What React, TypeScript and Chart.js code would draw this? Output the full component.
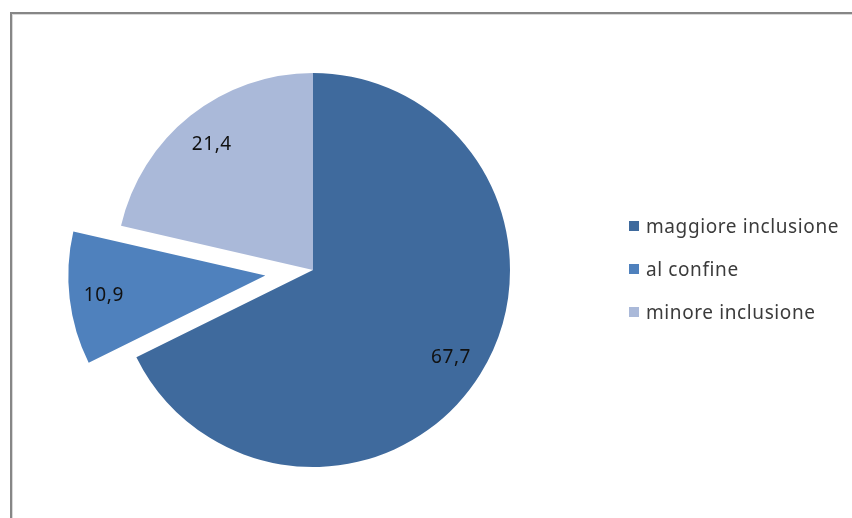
import React, { useEffect, useRef } from "react";
import { Chart, ArcElement, registerables } from "chart.js";

Chart.register(...registerables);

const categories = ["maggiore inclusione", "al confine", "minore inclusione"];
const values = [67.7, 10.9, 21.4];
const valueLabels = ["67,7", "10,9", "21,4"];
const colors = ["#3F6A9D", "#4F81BD", "#AAB9D9"];
// radial pull-out of each slice, in px
const explode = [0, 48, 0];

const FONT = "19px 'Noto Sans'";

const framePlugin = {
  id: "frame",
  beforeDraw(chart: any) {
    const ctx = chart.ctx;
    ctx.save();
    ctx.fillStyle = "#ffffff";
    ctx.fillRect(0, 0, chart.width, chart.height);
    ctx.fillStyle = "#868686";
    ctx.fillRect(10, 12, chart.width - 10, 2);
    ctx.fillRect(10, 12, 2, chart.height - 12);
    ctx.fillStyle = "#d9d9d9";
    ctx.fillRect(12, 14, chart.width - 12, 1);
    ctx.fillRect(12, 14, 1, chart.height - 14);
    ctx.restore();
  },
};

const explodePlugin = {
  id: "explodeSlices",
  beforeDatasetsDraw(chart: any) {
    const meta = chart.getDatasetMeta(0);
    meta.data.forEach((arc: any, i: number) => {
      const d = explode[i] || 0;
      if (!d || arc.__exploded) return;
      arc.__exploded = true;
      arc.draw = function (ctx: CanvasRenderingContext2D) {
        const mid = (this.startAngle + this.endAngle) / 2;
        ctx.save();
        ctx.translate(Math.cos(mid) * d, Math.sin(mid) * d);
        ArcElement.prototype.draw.call(this, ctx);
        ctx.restore();
      };
    });
  },
};

const labelsPlugin = {
  id: "sliceLabels",
  afterDatasetsDraw(chart: any) {
    const ctx = chart.ctx;
    const meta = chart.getDatasetMeta(0);
    ctx.save();
    ctx.font = FONT;
    (ctx as any).letterSpacing = "0.6px";
    ctx.fillStyle = "#111111";
    ctx.textAlign = "center";
    ctx.textBaseline = "alphabetic";
    meta.data.forEach((arc: any, i: number) => {
      const p = arc.getProps(["x", "y", "startAngle", "endAngle", "outerRadius"], true);
      const mid = (p.startAngle + p.endAngle) / 2;
      const off = explode[i] || 0;
      const cx = p.x + Math.cos(mid) * off;
      const cy = p.y + Math.sin(mid) * off;
      const lx = cx + Math.cos(mid) * p.outerRadius * 0.825;
      const ly = cy + Math.sin(mid) * p.outerRadius * 0.825;
      ctx.fillText(valueLabels[i], lx, ly + 7);
    });
    ctx.restore();
  },
};

const legendPlugin = {
  id: "customLegend",
  afterDraw(chart: any) {
    const ctx = chart.ctx;
    ctx.save();
    ctx.font = FONT;
    (ctx as any).letterSpacing = "0.6px";
    ctx.textAlign = "left";
    ctx.textBaseline = "alphabetic";
    categories.forEach((label, i) => {
      const cy = 226 + i * 43;
      ctx.fillStyle = colors[i];
      ctx.fillRect(629, cy - 5, 10, 10);
      ctx.fillStyle = "#3b3b3b";
      ctx.fillText(label, 646, cy + 7);
    });
    ctx.restore();
  },
};

export default function App() {
  const ref = useRef<HTMLCanvasElement | null>(null);
  useEffect(() => {
    if (!ref.current) return;
    const chart = new Chart(ref.current, {
      type: "pie",
      data: {
        labels: categories,
        datasets: [
          {
            data: values,
            backgroundColor: colors,
            borderWidth: 0,
          },
        ],
      },
      options: {
        animation: false,
        responsive: false,
        radius: 197,
        layout: { padding: { left: 0, right: 226, top: 22, bottom: 0 } },
        plugins: {
          legend: { display: false },
          tooltip: { enabled: false },
        },
      } as any,
      plugins: [framePlugin, explodePlugin, labelsPlugin, legendPlugin],
    });
    return () => chart.destroy();
  }, []);
  return (
    <div style={{ position: "fixed", left: 0, top: 0, width: 852, height: 518 }}>
      <canvas ref={ref} width={852} height={518} style={{ width: 852, height: 518, display: "block" }} />
    </div>
  );
}
